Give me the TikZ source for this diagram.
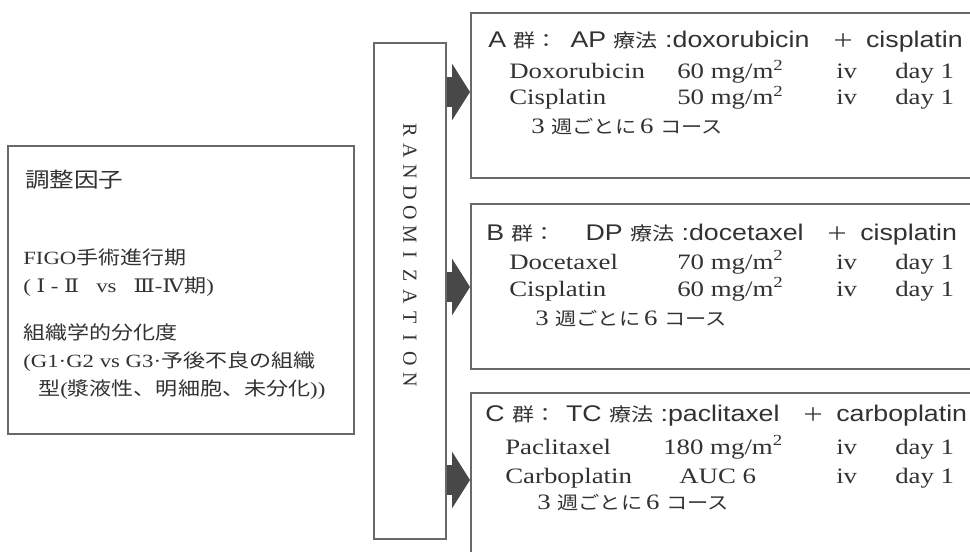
\documentclass[tikz,border=0pt]{standalone}
\usepackage{fontspec}
\setmainfont[FakeStretch=1.22]{Liberation Serif}
\newfontfamily\jpfont[FakeStretch=1.18]{Noto Sans CJK JP}
\newfontfamily\hdfont[FakeStretch=1.18]{Liberation Sans}
\newfontfamily\numfont[FakeStretch=1.18]{DejaVu Serif}
\newfontfamily\randfont{Liberation Serif}
\usepackage{xcolor}
\definecolor{lineGray}{RGB}{105,105,105}
\definecolor{textGray}{RGB}{50,50,50}
\definecolor{arrowFill}{RGB}{72,72,72}
\usepackage{tikz}
\usetikzlibrary{arrows.meta,positioning,calc}
\newcommand{\ja}[1]{{\jpfont #1}}
\newcommand{\jhd}[1]{{\jpfont\fontsize{14}{16}\selectfont #1}}
\newcommand{\jrow}[1]{{\jpfont\fontsize{13.5}{15}\selectfont #1}}
\newcommand{\rn}[1]{{\numfont #1}}
\newcommand{\mgm}{mg/m\textsuperscript{2}}
\def\px{0.75pt}
\tikzstyle{frame}=[draw=lineGray, line width=1.2pt, anchor=north west, inner sep=0pt]
\tikzstyle{txt}=[anchor=base west, inner sep=0pt, text=textGray]
\tikzstyle{row}=[txt, font=\fontsize{16.5}{18}\selectfont]
\tikzstyle{head}=[txt, font=\hdfont\fontsize{17}{19}\selectfont]
\tikzstyle{adjtxt}=[txt, font=\fontsize{14}{16}\selectfont]
\tikzstyle{course}=[draw=arrowFill, line width=22.5pt, -{Triangle[length=13.5pt, width=42pt]}]

\begin{document}
\begin{tikzpicture}[x=\px, y=-\px]
  \useasboundingbox (0,0) rectangle (970,552);
  \clip (0,0) rectangle (970,552);
  \fill[white] (0,0) rectangle (970,552);

  % stratification factors
  \node[frame, minimum width=346*\px, minimum height=288*\px] (adj) at (7,145) {};
  \node[adjtxt, font=\jpfont\fontsize{15.6}{18}\selectfont] (adjT) at (25,188) {調整因子};
  \node[adjtxt] (figo) at (23,264) {FIGO\ja{手術進行期}};
  \node[adjtxt] (figoS) at (23,292) {( \rn{Ⅰ} - \rn{Ⅱ}\ \ \ vs\ \ \ \rn{Ⅲ}-\rn{Ⅳ}\ja{期})};
  \node[adjtxt] (grade) at (23,339) {\ja{組織学的分化度}};
  \node[adjtxt] (gradeA) at (23,367) {(G1·G2 vs G3·\ja{予後不良の組織}};
  \node[adjtxt] (gradeB) at (38,395) {\ja{型}(\ja{漿液性、明細胞、未分化})) };

  % randomization
  \node[frame, minimum width=72*\px, minimum height=496*\px] (rand) at (373,42) {};
  \foreach \l [count=\i from 0] in {R,A,N,D,O,M,I,Z,A,T,I,O,N}
    \node[rotate=-90, inner sep=0pt, text=textGray, font=\randfont\fontsize{15}{15}\selectfont] (rnd\i) at (410,130+\i*20.8) {\l};

  % treatment arms
  \foreach \g/\top/\c in {A/12/92, B/203/287, C/392/480}{
    \node[frame, minimum width=520*\px, minimum height=165*\px] (grp\g) at (470,\top) {};
    \coordinate (mid\g) at (0,\c);
    \draw[course] (rand.east |- mid\g) -- (grp\g.west |- mid\g);
  }
  \node[head] (ttlA) at (488,48) {A \jhd{群：}\hspace{9.75pt}AP \jhd{療法} :doxorubicin\hspace{17pt}\jhd{＋}\hspace{9pt}cisplatin};
  \node[head] (ttlB) at (486,241) {B \jhd{群：}\hspace{22.5pt}DP \jhd{療法} :docetaxel\hspace{17pt}\jhd{＋}\hspace{9pt}cisplatin};
  \node[head] (ttlC) at (485,421) {C \jhd{群：}\hspace{7.5pt}TC \jhd{療法} :paclitaxel\hspace{17pt}\jhd{＋}\hspace{9pt}carboplatin};

  \foreach \id/\nx/\drug/\dx/\dose/\y in {
      a1/509/Doxorubicin/677/60 \mgm/79, a2/509/Cisplatin/677/50 \mgm/105,
      b1/509/Docetaxel/677/70 \mgm/269, b2/509/Cisplatin/677/60 \mgm/296,
      c1/505/Paclitaxel/663/180 \mgm/454, c2/505/Carboplatin/679/AUC 6/483}{
    \node[row] (drug\id) at (\nx,\y) {\drug};
    \node[row] (dose\id) at (\dx,\y) {\dose};
    \node[row] (iv\id) at (836,\y) {iv};
    \node[row] (day\id) at (895,\y) {day 1};
  }
  \foreach \g/\x/\y in {A/531/134, B/535/325, C/537/509}
    \node[row] (cyc\g) at (\x,\y) {3 \jrow{週ごとに}\,6 \jrow{コース}};
\end{tikzpicture}
\end{document}
